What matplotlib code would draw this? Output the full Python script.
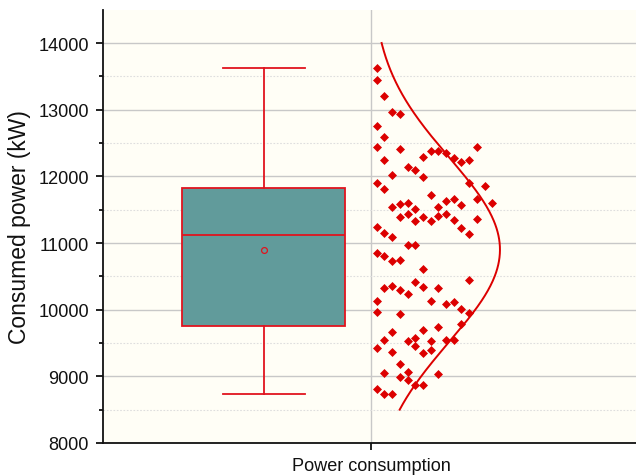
import numpy as np
import matplotlib.pyplot as plt

plt.rcParams["font.family"] = ["Liberation Sans", "DejaVu Sans"]

# consumption values, with the column slot each point sits in
power_kw = [
    13625, 13445, 13211, 12971, 12935, 12755, 12596, 12446, 12405, 12386,
    12386, 12346, 12436, 12245, 12286, 12271, 12215, 12245, 12146, 12091,
    12026, 11996, 11906, 11906, 11810, 11861, 11720, 11656, 11636, 11660,
    11596, 11536, 11585, 11606, 11566, 11506, 11536, 11435, 11396, 11431,
    11386, 11405, 11360, 11326, 11326, 11341, 11236, 11228, 11150, 11096,
    11135, 10970, 10976, 10850, 10800, 10726, 10745, 10616, 10441, 10411,
    10331, 10355, 10291, 10241, 10336, 10331, 10136, 10126, 10081, 10111,
    10006, 9953, 9968, 9941, 9791, 9736, 9671, 9695, 9581, 9530,
    9541, 9526, 9551, 9551, 9425, 9451, 9361, 9356, 9391, 9181,
    9056, 9071, 9031, 8986, 8941, 8866, 8866, 8816, 8735, 8735,
]
column_slot = [
    0, 0, 1, 2, 3, 0, 1, 0, 3, 7,
    8, 9, 13, 1, 6, 10, 11, 12, 4, 5,
    2, 6, 0, 12, 1, 14, 7, 13, 9, 10,
    15, 2, 3, 4, 11, 5, 8, 9, 3, 4,
    6, 8, 13, 5, 7, 10, 0, 11, 1, 2,
    12, 4, 5, 0, 1, 2, 3, 6, 12, 5,
    1, 2, 3, 4, 6, 8, 0, 7, 9, 10,
    11, 12, 0, 3, 11, 8, 2, 6, 5, 4,
    1, 7, 9, 10, 0, 5, 2, 6, 7, 3,
    1, 4, 8, 3, 4, 5, 6, 0, 1, 2,
]

# box statistics as drawn
box_min = 8730
box_q1 = 9760
box_median = 11116
box_q3 = 11831
box_max = 13620
box_mean = 10890

# normal curve drawn beside the points
curve_mean = 10900
curve_sd = 1380
curve_lo, curve_hi = 8500, 14000

category = "Power consumption"

teal = "#619b9b"
red = "#e0141e"
point_red = "#dc0000"

fig = plt.figure(figsize=(6.36, 4.77), dpi=100)
ax = fig.add_axes([0.1615, 0.0692, 0.8385, 0.9084])
ax.set_facecolor("#fffef6")

center = 1.0
stats = [dict(whislo=box_min, q1=box_q1, med=box_median, q3=box_q3,
              whishi=box_max, mean=box_mean, fliers=[])]
ax.bxp(stats, positions=[center - 0.401], widths=0.607, capwidths=0.305,
       patch_artist=True, showmeans=True, manage_ticks=False,
       boxprops=dict(facecolor=teal, edgecolor=red, linewidth=1.3),
       medianprops=dict(color=red, linewidth=1.3),
       whiskerprops=dict(color=red, linewidth=1.3),
       capprops=dict(color=red, linewidth=1.3),
       meanprops=dict(marker="o", markerfacecolor="none", markeredgecolor=red,
                      markersize=4.2, markeredgewidth=0.9))

xs = center + 0.0201 + 0.02867 * np.array(column_slot)
ax.scatter(xs, power_kw, marker="D", s=21, color=point_red, linewidths=0, zorder=3)

yy = np.linspace(curve_lo, curve_hi, 300)
xx = center + 0.479 * np.exp(-0.5 * ((yy - curve_mean) / curve_sd) ** 2)
ax.plot(xx, yy, color=point_red, linewidth=1.4, zorder=3)

ax.set_xlim(0, 1.9855)
ax.set_ylim(8000, 14500)
ax.set_yticks(np.arange(8000, 14001, 1000))
ax.set_yticks(np.arange(8500, 14001, 1000), minor=True)
ax.set_xticks([center])
ax.set_xticklabels([category])

ax.set_axisbelow(True)
ax.yaxis.grid(True, which="major", color="#c8c8c8", linewidth=1.0)
ax.yaxis.grid(True, which="minor", color="#dedede", linewidth=0.8, linestyle=(0, (1.5, 1.5)))
ax.xaxis.grid(True, which="major", color="#c8c8c8", linewidth=1.0)

for side in ("top", "right"):
    ax.spines[side].set_visible(False)
for side in ("left", "bottom"):
    ax.spines[side].set_linewidth(1.3)
    ax.spines[side].set_color("#111111")

ax.tick_params(axis="y", which="major", length=5, width=1.3, pad=5,
               labelsize=13.1, colors="#111111")
ax.tick_params(axis="y", which="minor", length=3, width=1.3, color="#111111")
ax.tick_params(axis="x", which="major", length=5, width=1.3, pad=5,
               labelsize=13.1, colors="#111111")

ax.set_ylabel("Consumed power (kW)", fontsize=16.5, color="#111111")
ax.yaxis.set_label_coords(-0.135, 0.5)

fig.savefig("out.png", dpi=100)
plt.close(fig)
